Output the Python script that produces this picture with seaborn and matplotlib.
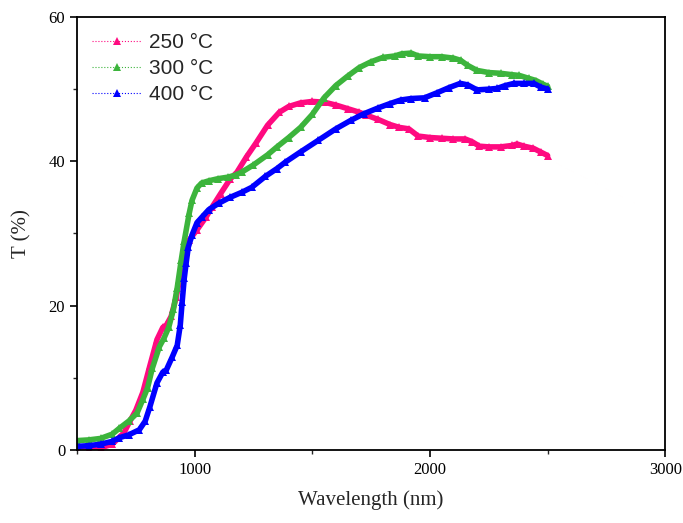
import matplotlib
matplotlib.use("Agg")
import matplotlib.pyplot as plt
from matplotlib.lines import Line2D
from matplotlib.ticker import MultipleLocator
import seaborn as sns
import pandas as pd

# ---- data ----
wl_250 = [500, 550, 600, 650, 700, 725, 750, 780, 810, 840, 865, 880, 900, 922, 935, 947,
          977, 1010, 1049, 1075, 1110, 1150, 1180, 1220, 1260, 1310, 1360, 1400, 1450, 1500,
          1550, 1600, 1650, 1700, 1730, 1780, 1830, 1870, 1910, 1950, 2000, 2050, 2100,
          2150, 2180, 2210, 2250, 2300, 2350, 2370, 2400, 2440, 2470, 2500]
t_250 = [0.0, 0.1, 0.3, 0.8, 2.4, 4.0, 5.5, 8.0, 11.7, 15.3, 17.0, 17.3, 18.5, 21.2, 23.5, 26.3,
         29.1, 30.5, 32.3, 33.7, 35.5, 37.5, 38.5, 40.6, 42.5, 45.0, 46.8, 47.6, 48.1, 48.3,
         48.2, 47.8, 47.3, 46.8, 46.4, 45.8, 45.1, 44.7, 44.5, 43.5, 43.3, 43.2, 43.1,
         43.1, 42.7, 42.1, 42.0, 42.0, 42.2, 42.4, 42.1, 41.8, 41.3, 40.8]

wl_300 = [500, 550, 600, 650, 680, 720, 755, 780, 800, 820, 850, 870, 890, 910, 926, 943,
          956, 977, 989, 1010, 1030, 1060, 1100, 1140, 1175, 1200, 1250, 1310, 1350, 1400,
          1450, 1500, 1550, 1600, 1650, 1700, 1750, 1800, 1850, 1880, 1920, 1950, 2000,
          2050, 2100, 2130, 2160, 2200, 2250, 2300, 2350, 2380, 2420, 2450, 2480, 2500]
t_300 = [1.3, 1.4, 1.6, 2.2, 3.0, 4.0, 5.1, 7.0, 8.6, 11.3, 14.3, 15.5, 17.0, 19.5, 22.5, 26.3,
         29.0, 32.8, 34.6, 36.3, 37.0, 37.3, 37.6, 37.8, 38.1, 38.5, 39.5, 40.9, 42.0, 43.3,
         44.7, 46.5, 48.8, 50.5, 51.8, 53.0, 53.8, 54.4, 54.6, 54.9, 55.0, 54.6, 54.5,
         54.5, 54.3, 54.0, 53.3, 52.6, 52.3, 52.2, 52.0, 51.9, 51.5, 51.2, 50.7, 50.4]

wl_400 = [500, 550, 600, 650, 680, 720, 765, 790, 810, 840, 865, 880, 905, 926, 939, 947,
          956, 964, 973, 989, 1010, 1032, 1060, 1103, 1150, 1200, 1243, 1300, 1350, 1386,
          1450, 1525, 1600, 1665, 1720, 1780, 1830, 1876, 1920, 1977, 2030, 2080, 2129,
          2160, 2200, 2250, 2285, 2320, 2357, 2400, 2441, 2470, 2500]
t_400 = [0.5, 0.6, 0.8, 1.2, 1.7, 2.1, 2.8, 4.0, 6.0, 9.3, 10.8, 11.1, 12.9, 14.5, 17.3, 20.5,
         23.8, 25.9, 28.1, 29.8, 31.5, 32.3, 33.3, 34.2, 35.0, 35.7, 36.4, 37.9, 39.0, 39.9,
         41.3, 42.9, 44.5, 45.7, 46.6, 47.4, 48.0, 48.5, 48.7, 48.8, 49.5, 50.2, 50.8,
         50.6, 49.9, 50.0, 50.1, 50.5, 50.8, 50.8, 50.8, 50.3, 50.0]

labels = ["250 °C", "300 °C", "400 °C"]
colors = ["#FF0A80", "#3CB43C", "#0000FF"]

series = [(wl_250, t_250), (wl_300, t_300), (wl_400, t_400)]

sns.set_style("ticks")
plt.rcParams["font.family"] = ["Liberation Serif", "DejaVu Serif"]

fig = plt.figure(figsize=(6.83, 5.23), dpi=100)
ax = fig.add_axes([0.1127, 0.1396, 0.8613, 0.8279])

for (wl, t), lab, c in zip(series, labels, colors):
    df = pd.DataFrame({"Wavelength": wl, "T": t})
    sns.lineplot(data=df, x="Wavelength", y="T", ax=ax, color=c, linewidth=4.0,
                 marker="^", markersize=6, markeredgewidth=0, markerfacecolor=c,
                 sort=False, legend=False)

ax.set_xlim(500, 3000)
ax.set_ylim(0, 60)
ax.xaxis.set_major_locator(MultipleLocator(1000))
ax.xaxis.set_minor_locator(MultipleLocator(500))
ax.yaxis.set_major_locator(MultipleLocator(20))
ax.yaxis.set_minor_locator(MultipleLocator(10))
ax.set_xticks([1000, 2000, 3000])
ax.tick_params(which="major", direction="out", length=5, width=1.2, labelsize=12, colors="black")
ax.tick_params(which="minor", direction="out", length=3, width=1.0)
for s in ax.spines.values():
    s.set_linewidth(1.3)
    s.set_color("black")
    s.set_visible(True)

ax.set_xlabel("Wavelength (nm)", fontsize=15, labelpad=9)
ax.set_ylabel("T (%)", fontsize=15, labelpad=12)

handles = [Line2D([0], [0], color=c, linestyle=":", linewidth=0.8, marker="^",
                  markersize=6, markeredgewidth=0, markerfacecolor=c) for c in colors]
leg = ax.legend(handles, labels, loc="upper left", bbox_to_anchor=(0.025, 0.962),
                frameon=False, handlelength=2.4, handletextpad=0.35, labelspacing=0.33,
                borderaxespad=0, borderpad=0,
                prop={"family": "Liberation Sans", "size": 15})

fig.savefig("out.png", dpi=100)
